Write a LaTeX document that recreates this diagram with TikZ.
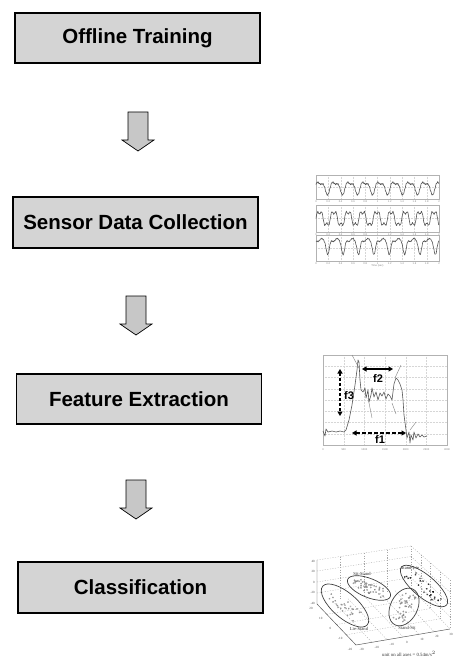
\documentclass[tikz,border=0pt]{standalone}
\usepackage{fontspec}
\setmainfont{Liberation Sans}
\newfontfamily\plotserif{Liberation Serif}
\usetikzlibrary{arrows.meta,calc}
\definecolor{boxgray}{gray}{0.83}
\definecolor{arrowgray}{gray}{0.78}
\definecolor{sig}{gray}{0.33}
\definecolor{gridc}{gray}{0.84}
\begin{document}
\begin{tikzpicture}[x=1pt,y=-1pt,
  stage/.style={draw=black, line width=1.1pt, fill=boxgray, minimum width=245pt, minimum height=50pt, inner sep=0pt, font=\fontsize{20.5}{24}\selectfont\bfseries},
  flowarrow/.pic={\draw[fill=arrowgray, line width=0.7pt, line join=miter] (-10,0) -- (10,0) -- (10,28) -- (16,28) -- (0,39) -- (-16,28) -- (-10,28) -- cycle;},
  frame/.style={draw=gray!60, line width=0.35pt},
  gridline/.style={draw=gridc, line width=0.2pt, dash pattern=on 0.6pt off 0.9pt},
  trace/.style={draw=sig, line width=0.6pt, line join=round},
  tick/.style={font=\fontsize{2.6}{3}\selectfont, text=gray, inner sep=0pt},
  stick/.style={font=\fontsize{3.2}{3.5}\selectfont\plotserif, text=black!70, inner sep=0pt},
  plab/.style={font=\fontsize{4.6}{5}\selectfont\plotserif, text=black!80, inner sep=0pt},
  feat/.style={font=\fontsize{11}{12}\selectfont\bfseries, inner sep=0pt},
  farrow/.style={{Triangle[length=4.5pt,width=5pt]}-{Triangle[length=4.5pt,width=5pt]}, line width=1.3pt},
  tangent/.style={draw=gray, line width=0.4pt},
  wallgrid/.style={draw=gray!70, line width=0.3pt, dash pattern=on 1.2pt off 1.4pt},
  axis3/.style={draw=black!70, line width=0.45pt},
  ell/.style={draw=black!75, line width=0.7pt}
]
\useasboundingbox (0,0) rectangle (474,663);

% ---------------- flow boxes ----------------
\node[stage] (b1) at (137.5,38) {Offline Training};
\node[stage, minimum height=51pt] (b2) at (135.5,222.5) {Sensor Data Collection};
\node[stage] (b3) at (139,399) {Feature Extraction};
\node[stage, minimum height=51pt] (b4) at (140.5,587.5) {Classification};

% ---------------- block arrows ----------------
\pic (a1) at (138,112) {flowarrow};
\pic (a2) at (136,296) {flowarrow};
\pic (a3) at (136,480) {flowarrow};

% ---------------- plot 1: sensor traces ----------------
\foreach \top/\bot in {175/199, 205/232, 235/261}{
  \foreach \i in {1,...,9}{
    \draw[gridline] ({316+\i*12.3},\top) -- ({316+\i*12.3},\bot);
  }
  \draw[gridline] (316,{(\top+\bot)/2}) -- (439,{(\top+\bot)/2});
  \draw[frame] (316,\top) rectangle (439,\bot);
  \foreach \i/\l in {0/0,1/0.2,2/0.4,3/0.6,4/0.8,5/1,6/1.2,7/1.4,8/1.6,9/1.8,10/2}{
    \node[tick] (t\top x\i) at ({316+\i*12.3},{\bot+2.6}) {\l};
  }
}
\draw[trace] plot[domain=0:2, samples=260] ({316+\x*61.5}, {187 - 5.5*sin(\x*4.1*360) - 2.5*sin(\x*8.2*360+70) - 0.7*sin(mod(\x*37,1)*360)});
\draw[trace] plot[domain=0:2, samples=260] ({316+\x*61.5}, {218.5 - 7*sin(\x*4.3*360) - 2.5*sin(\x*12.9*360) - 0.6*sin(mod(\x*41,1)*360)});
\draw[trace] plot[domain=0:2, samples=300] ({316+\x*61.5}, {240 + 15*pow(abs(cos(\x*4*180+40)),10) + 1.5*sin(\x*8*360) + 0.5*sin(mod(\x*39,1)*360)});
\node[tick] (tlab) at (377.5,266) {Time (sec)};

% ---------------- plot 2: feature extraction ----------------
\foreach \i in {1,...,5}{
  \draw[gridline] ({323+\i*20.67},355) -- ({323+\i*20.67},445);
}
\foreach \j in {1,...,7}{
  \draw[gridline] (323,{355+\j*11.25}) -- (447,{355+\j*11.25});
}
\draw[frame] (323,355) rectangle (447,445);
\foreach \i/\l in {0/0,1/500,2/1000,3/1500,4/2000,5/2500,6/3000}{
  \node[tick] (u\i) at ({323+\i*20.67},449.5) {\l};
}
\draw[trace] plot coordinates {(323,431) (325,436) (326,429) (328,432) (332,431) (336,432) (340,431) (344,432) (346,430) (349,420) (352,405) (355,385) (357,370) (358,360) (359,362) (360,380) (361,390) (363,392) (365,388) (366,398) (368,390) (369,402) (371,395) (372,388) (374,397) (376,392) (378,400) (380,393) (382,396) (384,392) (386,399) (388,394) (390,396) (392,400) (393,392) (394,384) (396,378) (398,380) (400,384) (402,390) (403,400) (404,415) (406,430) (407,438) (409,432) (410,443) (411,435) (413,440) (414,432) (416,438) (418,434) (420,437) (422,435) (424,437) (427,436)};
\draw[tangent] (352,355) -- (360,370);
\draw[tangent] (395,378) -- (401,365);
\draw[tangent] (368,398) -- (372,418);
\draw[tangent] (392,403) -- (396,414);
\draw[tangent] (410,430) -- (416,422);

\coordinate (f3a) at (340,369);
\coordinate (f3b) at (340,416);
\coordinate (f2a) at (362,369);
\coordinate (f2b) at (393,369);
\coordinate (f1a) at (352,433);
\coordinate (f1b) at (406,433);
\draw[farrow, dash pattern=on 3pt off 2pt] (f3a) -- (f3b);
\draw[farrow] (f2a) -- (f2b);
\draw[farrow, dash pattern=on 3.5pt off 2.5pt] (f1a) -- (f1b);
\node[feat] (lf3) at (349,396) {f3};
\node[feat] (lf2) at (378,379) {f2};
\node[feat] (lf1) at (380,439.5) {f1};

% ---------------- plot 3: 3-D scatter ----------------
\coordinate (A) at (317,604);
\coordinate (At) at (317,560);
\coordinate (B) at (356,645);
\coordinate (C) at (450,629);
\coordinate (Ct) at (450,580);
\coordinate (D) at (411,588);
\coordinate (Dt) at (411,546);
% back-left wall
\foreach \t in {0,0.25,0.5,0.75}{
  \draw[wallgrid] ($(At)!\t!(A)$) -- ($(Dt)!\t!(D)$);
}
\foreach \s in {0.25,0.5,0.75,1}{
  \draw[wallgrid] ($(At)!\s!(Dt)$) -- ($(A)!\s!(D)$);
}
% back-right wall
\foreach \t in {0,0.25,0.5,0.75,1}{
  \draw[wallgrid] ($(Dt)!\t!(D)$) -- ($(Ct)!\t!(C)$);
}
\foreach \s in {0.25,0.5,0.75}{
  \draw[wallgrid] ($(Dt)!\s!(Ct)$) -- ($(D)!\s!(C)$);
}
\draw[wallgrid] (Ct) -- (C);
% floor
\foreach \s in {0.25,0.5,0.75}{
  \draw[wallgrid] ($(A)!\s!(B)$) -- ($(D)!\s!(C)$);
}
\foreach \s in {0.17,0.33,0.5,0.67,0.83}{
  \draw[wallgrid] ($(A)!\s!(D)$) -- ($(B)!\s!(C)$);
}
\draw[axis3] (At) -- (A) -- (B) -- (C);

\node[stick, anchor=east] (z1) at (315,561) {40};
\node[stick, anchor=east] (z2) at (315,571.5) {20};
\node[stick, anchor=east] (z3) at (315,582) {0};
\node[stick, anchor=east] (z4) at (315,592.5) {-20};
\node[stick, anchor=east] (z5) at (315,603) {-40};
\foreach \s/\l [count=\k] in {0/20,0.25/10,0.5/0,0.75/-10,1/-20}{
  \node[stick] (xl\k) at ($(A)!\s!(B) + (-6,4)$) {\l};
}
\foreach \s/\l [count=\k] in {0.05/-30,0.21/-20,0.37/-10,0.53/0,0.69/10,0.85/20,1.0/30}{
  \node[stick] (yl\k) at ($(B)!\s!(C) + (1,5.5)$) {\l};
}

\pgfmathsetseed{7}
\foreach \cx/\cy/\ang/\ra/\rb/\n/\col in {345/605.5/-41/29.5/12.5/30/gray, 369/588/-22/23/9.5/45/gray, 404/607/63/20/13.5/40/gray, 424/586/-40/29.5/11/25/black}{
  \begin{scope}[shift={(\cx,\cy)}, rotate=\ang]
    \foreach \i in {1,...,\n}{
      \pgfmathsetmacro\pu{0.75*\ra*rand}
      \pgfmathsetmacro\pv{0.5*\rb*rand}
      \draw[\col, line width=0.3pt] (\pu,\pv) circle[radius=0.7pt];
    }
    \draw[ell] (0,0) ellipse [x radius=\ra pt, y radius=\rb pt];
  \end{scope}
}
\node[plab] (e1) at (362,573.5) {Sit-Stand};
\node[plab] (e2) at (410,568) {Stand-Lie};
\node[plab] (e3) at (359,629) {Lie-Stand};
\node[plab] (e4) at (407,627.5) {Stand-Sit};
\node[plab, font=\fontsize{4.8}{5}\selectfont\plotserif] (cap) at (409,654) {unit on all axes = 0.54m/s$^2$};
\end{tikzpicture}
\end{document}
